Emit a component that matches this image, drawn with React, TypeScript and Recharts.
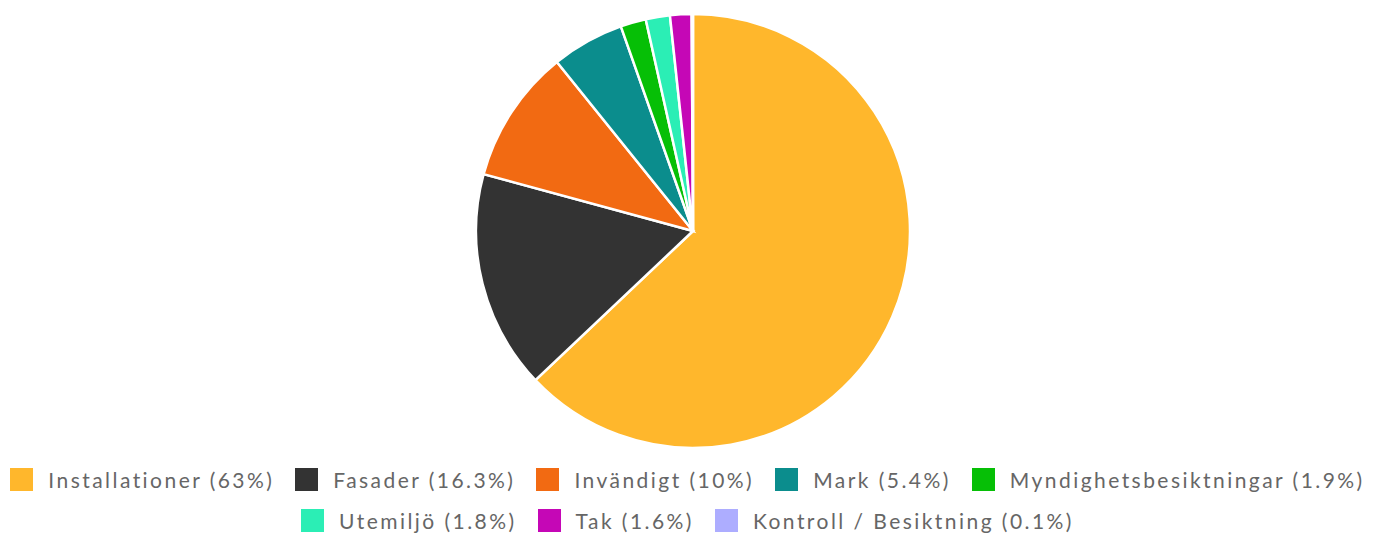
import React from 'react';
import { PieChart, Pie, Cell, Legend } from 'recharts';

const CATEGORIES = [
  'Installationer', 'Fasader', 'Invändigt', 'Mark',
  'Myndighetsbesiktningar', 'Utemiljö', 'Tak', 'Kontroll / Besiktning',
];
const SHARES = [63, 16.3, 10, 5.4, 1.9, 1.8, 1.6, 0.1];
const COLORS = ['#FFB72C', '#333333', '#F26A12', '#0B8D8D', '#06BF06', '#2BEEB5', '#C507B6', '#ADADFF'];

const data = CATEGORIES.map((name, i) => ({ name, value: SHARES[i] }));

function LegendRows() {
  return (
    <div style={{
      display: 'flex', flexWrap: 'wrap', justifyContent: 'center',
      columnGap: 21, rowGap: 14, width: 1375, fontFamily: 'Lato, sans-serif',
      fontSize: 21, color: '#666', letterSpacing: 2.45,
    }}>
      {data.map((d, i) => (
        <div key={d.name} style={{ display: 'flex', alignItems: 'center', height: 27 }}>
          <span style={{ width: 23, height: 23, background: COLORS[i], marginRight: 15, display: 'inline-block' }} />
          <span>{`${d.name} (${d.value}%)`}</span>
        </div>
      ))}
    </div>
  );
}

export default function App() {
  return (
    <div style={{ width: 1375, height: 534, background: '#fff' }}>
      <style>{'body{margin:0}'}</style>
      <PieChart width={1375} height={534} margin={{ top: 0, right: 0, bottom: 0, left: 0 }}>
        <Pie
          data={data} dataKey="value" nameKey="name"
          cx={693} cy={231} outerRadius={217}
          startAngle={90} endAngle={-270}
          stroke="#fff" strokeWidth={2.5}
          isAnimationActive={false}
        >
          {data.map((d, i) => <Cell key={`cell-${i}`} fill={COLORS[i]} />)}
        </Pie>
        <Legend content={() => <LegendRows />} wrapperStyle={{ top: 466, left: 0, width: 1375 }} />
      </PieChart>
    </div>
  );
}
